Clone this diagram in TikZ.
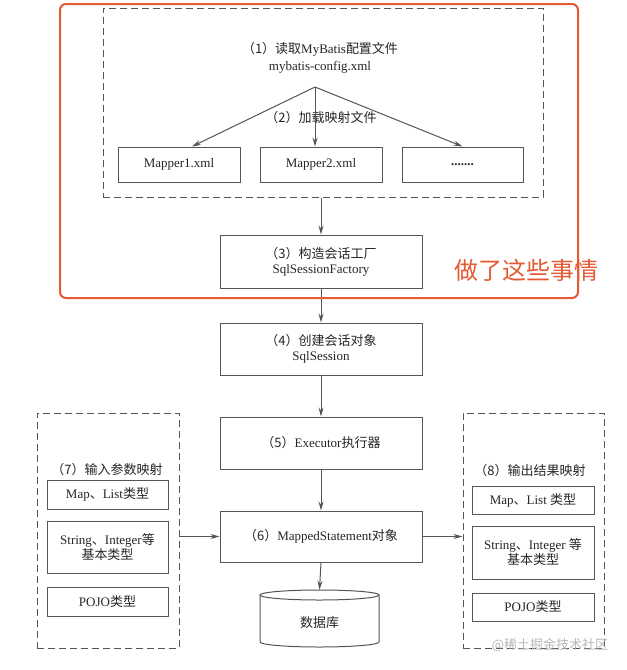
\documentclass[tikz,border=0pt]{standalone}
\usepackage{fontspec}
\setmainfont{Liberation Serif}
\newfontfamily\zhfont{Noto Sans CJK SC}
\usetikzlibrary{arrows.meta}
\definecolor{lg}{HTML}{555555}
\definecolor{tx}{HTML}{262626}
\definecolor{og}{HTML}{E35A34}
\definecolor{wm}{HTML}{B8B8B8}
\begin{document}
\begin{tikzpicture}[x=1pt,y=-1pt,
  every node/.style={text=tx,font=\fontsize{13}{15}\selectfont,align=center,inner sep=0pt},
  plainbox/.style={draw=lg,line width=1pt},
  dashbox/.style={draw=lg,line width=1pt,dash pattern=on 7pt off 4pt},
  conn/.style={draw=lg,line width=1pt,-{Stealth[length=9pt,width=5pt]}},
  label/.style={}
]
\useasboundingbox (0,0) rectangle (627,670);
\fill[white] (0,0) rectangle (627,670);

% top dashed area
\node[dashbox,minimum width=440,minimum height=189] (cfg) at (323,102.5) {};
\node[label,font=\fontsize{13}{17}\selectfont] (t1) at (320,57.5) {{\zhfont （1）读取}MyBatis{\zhfont 配置文件}\\mybatis-config.xml};
\coordinate (apex) at (315,87);
\node[label] (t2) at (321,118) {\zhfont （2）加载映射文件};
\node[plainbox,minimum width=122,minimum height=35] (m1) at (179,164.5) {Mapper1.xml};
\node[plainbox,minimum width=122,minimum height=35] (m2) at (321,164.5) {Mapper2.xml};
\node[plainbox,minimum width=121,minimum height=35] (m3) at (462.5,164.5) {\textbf{.......}};
\draw[conn] (apex) -- ([xshift=13pt]m1.north);
\draw[conn] (apex) -- ([xshift=-6pt]m2.north);
\draw[conn] (apex) -- (m3.north);

% main column
\node[plainbox,minimum width=202,minimum height=53] (f) at (321,261.5) {{\zhfont （3）构造会话工厂}\\SqlSessionFactory};
\node[plainbox,minimum width=202,minimum height=52] (s) at (321,349) {{\zhfont （4）创建会话对象}\\SqlSession};
\node[plainbox,minimum width=202,minimum height=52] (e) at (321,443) {{\zhfont （5）}Executor{\zhfont 执行器}};
\node[plainbox,minimum width=202,minimum height=51] (ms) at (321,536.5) {{\zhfont （6）}MappedStatement{\zhfont 对象}};
\node[minimum width=119,minimum height=57] (db) at (319.5,618.5) {};
\draw[lg,line width=1pt] (260,595) -- (260,642) arc[start angle=180,end angle=360,x radius=59.5pt,y radius=5pt] -- (379,595);
\draw[lg,line width=1pt] (319.5,595) ellipse[x radius=59.5pt,y radius=5pt];
\node[label] (dbt) at (319.5,623) {\zhfont 数据库};

\draw[conn] (cfg.south -| f.north) -- (f.north);
\draw[conn] (f.south) -- (s.north);
\draw[conn] (s.south) -- (e.north);
\draw[conn] (e.south) -- (ms.north);
\draw[conn] (ms.south) -- (db.north);

% left: input mapping
\node[dashbox,minimum width=142,minimum height=235] (L) at (108,530.5) {};
\node[label] (lt) at (107,470) {\zhfont （7）输入参数映射};
\node[plainbox,minimum width=121,minimum height=29] (la) at (107.5,494.5) {Map{\zhfont 、}List{\zhfont 类型}};
\node[plainbox,minimum width=121,minimum height=52] (lb) at (107.5,547) {String{\zhfont 、}Integer{\zhfont 等}\\{\zhfont 基本类型}};
\node[plainbox,minimum width=121,minimum height=29] (lc) at (107.5,601.5) {POJO{\zhfont 类型}};

% right: output mapping
\node[dashbox,minimum width=141,minimum height=235] (R) at (533.5,530.5) {};
\node[label] (rt) at (530,471) {\zhfont （8）输出结果映射};
\node[plainbox,minimum width=122,minimum height=28] (ra) at (533,500) {Map{\zhfont 、}List {\zhfont 类型}};
\node[plainbox,minimum width=122,minimum height=53] (rb) at (533,552.5) {String{\zhfont 、}Integer {\zhfont 等}\\{\zhfont 基本类型}};
\node[plainbox,minimum width=122,minimum height=28] (rc) at (533,607) {POJO{\zhfont 类型}};

\draw[conn] (ms.west -| L.east) -- (ms.west);
\draw[conn] (ms.east) -- (ms.east -| R.west);

% orange highlight
\draw[og,line width=2pt,rounded corners=6pt] (60,4) rectangle (578,298);
\node[label,text=og,font=\zhfont\fontsize{24}{28}\selectfont] (note) at (526,270) {做了这些事情};

% watermark
\node[label,text=wm,font=\zhfont\fontsize{13}{15}\selectfont] (wmk) at (550,645) {@稀土掘金技术社区};
\end{tikzpicture}
\end{document}
